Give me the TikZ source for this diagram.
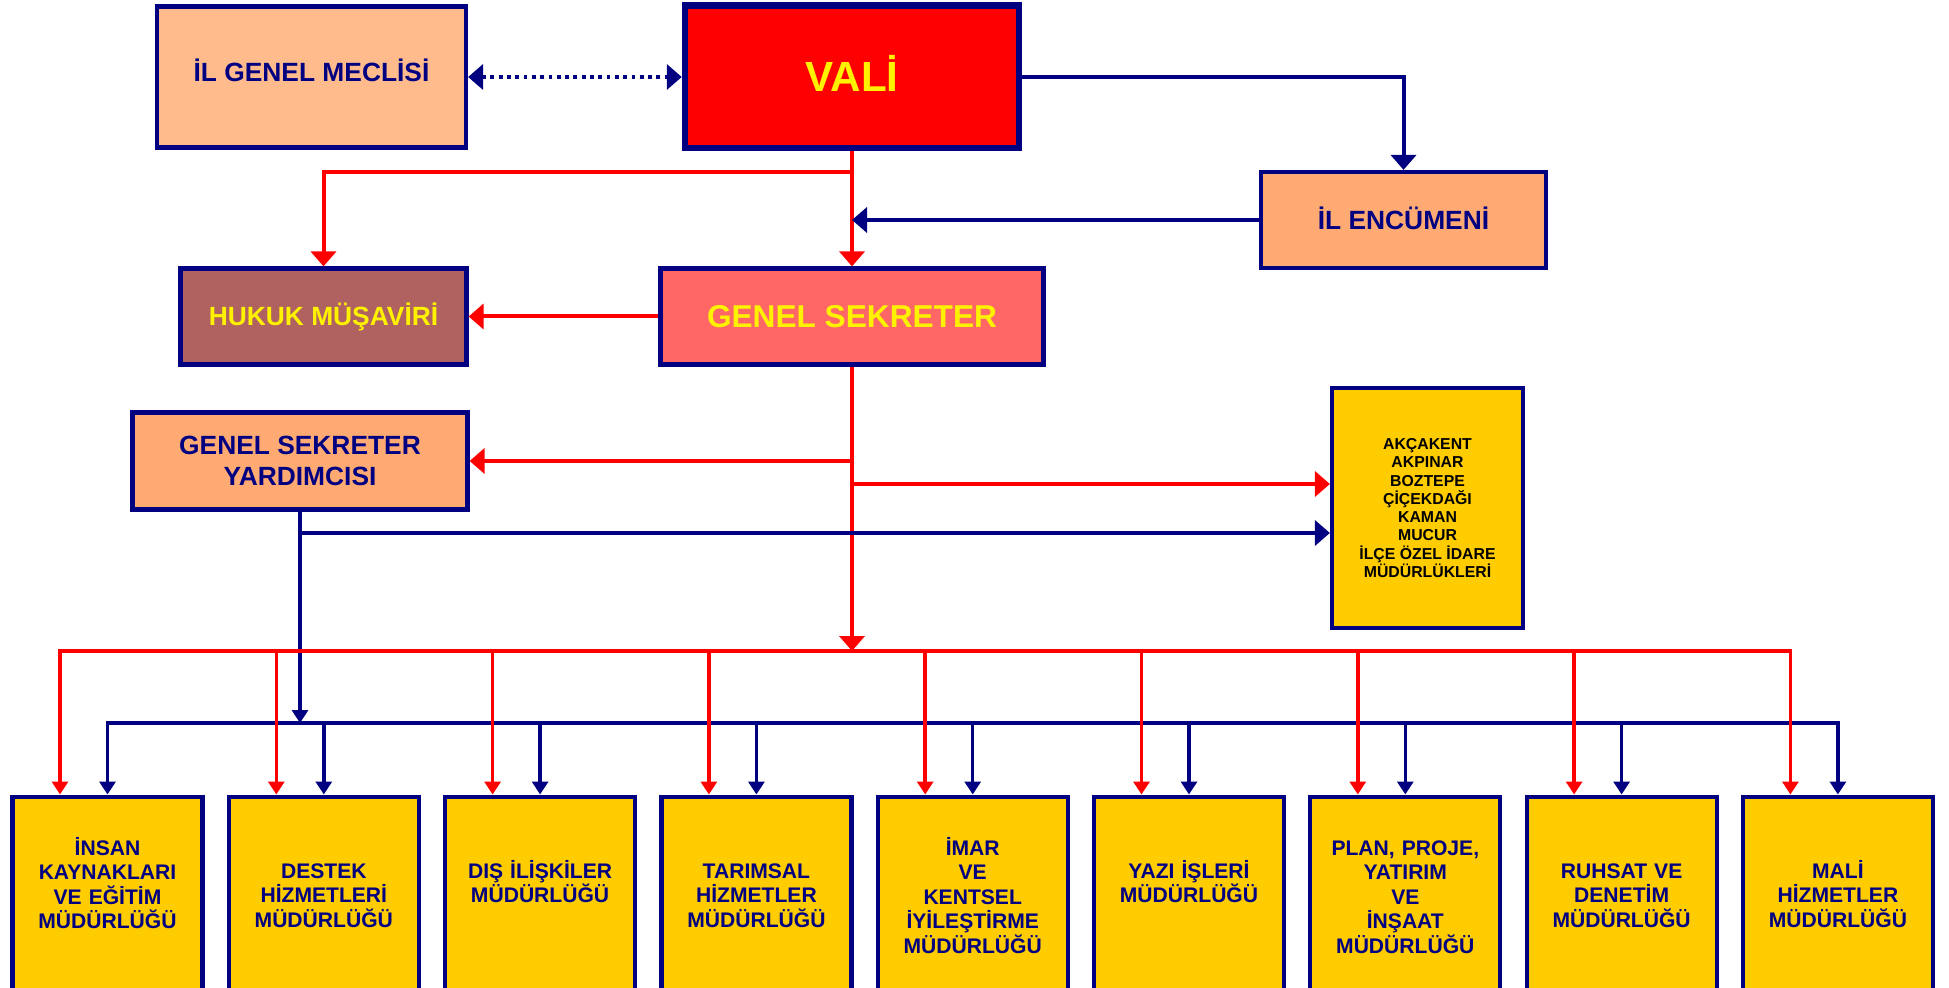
\documentclass[tikz,border=0pt]{standalone}
\usepackage{fontspec}
\setmainfont{Liberation Sans}
\usetikzlibrary{arrows.meta}
\definecolor{navy}{RGB}{0,0,128}
\definecolor{peach}{RGB}{255,187,140}
\definecolor{apricot}{RGB}{255,170,115}
\definecolor{rosewood}{RGB}{176,98,96}
\definecolor{salmon}{RGB}{255,102,102}
\definecolor{gold}{RGB}{255,204,0}
\begin{document}
\begin{tikzpicture}[
    >={Triangle[length=0.15cm,width=0.25cm]},
    orgbox/.style={draw=navy, line width=0.042cm, inner sep=0pt, align=center,
      font=\bfseries\fontsize{7.5}{9}\selectfont},
    mudbox/.style={draw=navy, line width=0.042cm, fill=gold, text=navy, anchor=north,
      minimum width=1.9cm, text width=1.9cm, inner sep=0pt, align=center,
      text height=0.815cm, text depth=1.35cm, font=\bfseries\fontsize{6}{7}\selectfont},
    mudboxhigh/.style={mudbox, text height=0.585cm, text depth=1.58cm},
    redarrow/.style={draw=red, line width=0.04cm, ->},
    navyarrow/.style={draw=navy, line width=0.04cm, ->},
    dotarrow/.style={draw=navy, line width=0.038cm, dash pattern=on 0.038cm off 0.045cm, <->},
    drop/.style={line width=0.035cm, >={Triangle[length=0.13cm,width=0.16cm]}, ->}
  ]
      \path[use as bounding box, fill=white] (0,0) rectangle (19.49,-9.88);
      \clip (0,0) rectangle (19.49,-9.88);
      \draw
        (3.115,-0.77) node[orgbox, fill=peach, text=navy, text depth=0.13cm, minimum width=3.09cm, minimum height=1.41cm] (igm){İL GENEL MECLİSİ}
        (8.52,-0.77) node[orgbox, line width=0.065cm, fill=red, text=yellow, text depth=0.08cm, font=\bfseries\fontsize{12}{14}\selectfont, minimum width=3.34cm, minimum height=1.425cm] (vali){VALİ}
        (14.035,-2.20) node[orgbox, fill=apricot, text=navy, text depth=0.04cm, minimum width=2.85cm, minimum height=0.96cm] (enc){İL ENCÜMENİ}
        (3.235,-3.165) node[orgbox, fill=rosewood, text=yellow, minimum width=2.86cm, minimum height=0.96cm] (hukuk){HUKUK MÜŞAVİRİ}
        (8.52,-3.165) node[orgbox, fill=salmon, text=yellow, font=\bfseries\fontsize{9}{11}\selectfont, minimum width=3.83cm, minimum height=0.96cm] (gs){GENEL SEKRETER}
        (3.0,-4.61) node[orgbox, fill=apricot, text=navy, minimum width=3.35cm, minimum height=0.97cm] (gsy){GENEL SEKRETER\\YARDIMCISI}
        (14.275,-5.08) node[orgbox, fill=gold, text=black, font=\bfseries\fontsize{4.5}{5.2}\selectfont, minimum width=1.91cm, minimum height=2.4cm] (ilce){AKÇAKENT\\AKPINAR\\BOZTEPE\\ÇİÇEKDAĞI\\KAMAN\\MUCUR\\İLÇE ÖZEL İDARE\\MÜDÜRLÜKLERİ};
      \draw
        (1.075,-7.945) node[mudboxhigh] (m1){İNSAN\\KAYNAKLARI\\VE EĞİTİM\\MÜDÜRLÜĞÜ}
        (3.238,-7.945) node[mudbox] (m2){DESTEK\\HİZMETLERİ\\MÜDÜRLÜĞÜ}
        (5.401,-7.945) node[mudbox] (m3){DIŞ İLİŞKİLER\\MÜDÜRLÜĞÜ}
        (7.564,-7.945) node[mudbox] (m4){TARIMSAL\\HİZMETLER\\MÜDÜRLÜĞÜ}
        (9.727,-7.945) node[mudboxhigh] (m5){İMAR\\VE\\KENTSEL\\İYİLEŞTİRME\\MÜDÜRLÜĞÜ}
        (11.890,-7.945) node[mudbox] (m6){YAZI İŞLERİ\\MÜDÜRLÜĞÜ}
        (14.053,-7.945) node[mudboxhigh] (m7){PLAN, PROJE,\\YATIRIM\\VE\\İNŞAAT\\MÜDÜRLÜĞÜ}
        (16.216,-7.945) node[mudbox] (m8){RUHSAT VE\\DENETİM\\MÜDÜRLÜĞÜ}
        (18.379,-7.945) node[mudbox] (m9){MALİ\\HİZMETLER\\MÜDÜRLÜĞÜ};
      \coordinate (hbranch) at (8.52,-1.72);
      \coordinate (ilcered) at (8.52,-4.84);
      \coordinate (ilcenavy) at (3.0,-5.33);
      \coordinate (rbus) at (8.52,-6.51);
      \coordinate (nbus) at (3.0,-7.23);
      \draw[dotarrow] (igm) to (vali);
      \begin{scope}[redarrow]
        \draw (vali) to (gs);
        \draw (hbranch) -| (hukuk);
        \draw (gs) to (hukuk);
        \draw (gs.south |- gsy) to (gsy);
        \draw (ilcered) to (ilcered -| ilce.west);
        \draw (gs) to (rbus);
      \end{scope}
      \begin{scope}[navyarrow]
        \draw (vali) -| (enc);
        \draw (enc) to (enc -| vali);
        \draw (ilcenavy) to (ilcenavy -| ilce.west);
      \end{scope}
      \draw[drop, navy, line width=0.04cm] (gsy) to (nbus);
      \begin{scope}[line width=0.038cm, line cap=rect]
        \draw[red] ([xshift=-0.475cm]m1.north |- rbus) to ([xshift=-0.475cm]m9.north |- rbus);
        \draw[navy] (m1.north |- nbus) to (m9.north |- nbus);
      \end{scope}
      \begin{scope}[drop, red]
        \draw ([xshift=-0.475cm]m1.north |- rbus) to ([xshift=-0.475cm]m1.north);
        \draw ([xshift=-0.475cm]m2.north |- rbus) to ([xshift=-0.475cm]m2.north);
        \draw ([xshift=-0.475cm]m3.north |- rbus) to ([xshift=-0.475cm]m3.north);
        \draw ([xshift=-0.475cm]m4.north |- rbus) to ([xshift=-0.475cm]m4.north);
        \draw ([xshift=-0.475cm]m5.north |- rbus) to ([xshift=-0.475cm]m5.north);
        \draw ([xshift=-0.475cm]m6.north |- rbus) to ([xshift=-0.475cm]m6.north);
        \draw ([xshift=-0.475cm]m7.north |- rbus) to ([xshift=-0.475cm]m7.north);
        \draw ([xshift=-0.475cm]m8.north |- rbus) to ([xshift=-0.475cm]m8.north);
        \draw ([xshift=-0.475cm]m9.north |- rbus) to ([xshift=-0.475cm]m9.north);
      \end{scope}
      \begin{scope}[drop, navy]
        \draw (m1.north |- nbus) to (m1.north);
        \draw (m2.north |- nbus) to (m2.north);
        \draw (m3.north |- nbus) to (m3.north);
        \draw (m4.north |- nbus) to (m4.north);
        \draw (m5.north |- nbus) to (m5.north);
        \draw (m6.north |- nbus) to (m6.north);
        \draw (m7.north |- nbus) to (m7.north);
        \draw (m8.north |- nbus) to (m8.north);
        \draw (m9.north |- nbus) to (m9.north);
      \end{scope}
    \end{tikzpicture}
\end{document}
